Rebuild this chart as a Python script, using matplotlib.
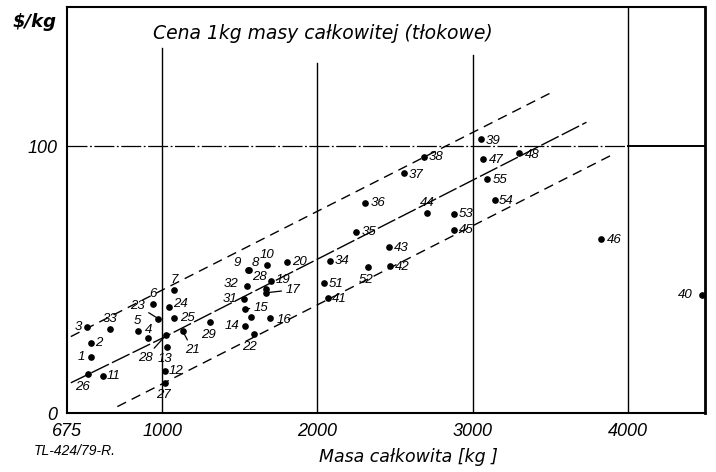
import numpy as np
import matplotlib
matplotlib.use('Agg')
import matplotlib.pyplot as plt

# point numbers, total mass [kg] and price per kg [$/kg]
labels = ['1', '2', '3', '4', '5', '6', '7', '8', '9', '10', '11', '12', '13', '14', '15',
          '16', '17', '28', '19', '20', '21', '22', '23', '24', '25', '26', '27', '28', '29',
          '', '31', '32', '33', '34', '35', '36', '37', '38', '39', '40', '41', '42', '43',
          '44', '45', '46', '47', '48', '51', '52', '53', '54', '55']
mass = [756, 756, 744, 950, 917, 970, 1077, 1561, 1550, 1672, 799, 1019, 1034, 1535, 1535,
        1696, 1669, 1669, 1701, 1801, 1132, 1589, 987, 1041, 1077, 747, 1019, 1026, 1309,
        1574, 1529, 1546, 821, 2083, 2249, 2309, 2560, 2689, 3050, 4479, 2070, 2468, 2463,
        2708, 2876, 3828, 3065, 3297, 2044, 2328, 2876, 3140, 3091]
price = [20.9, 26.4, 32.2, 28.3, 30.8, 41.0, 46.1, 53.8, 53.6, 55.5, 14.0, 15.9, 24.9, 32.7, 39.1,
         35.5, 45.1, 46.6, 49.5, 56.7, 30.8, 29.7, 35.4, 39.7, 35.5, 14.6, 11.4, 29.3, 34.3,
         36.1, 42.6, 47.6, 31.5, 57.1, 67.7, 78.6, 89.8, 96.0, 102.6, 44.1, 43.0, 55.1, 62.3,
         74.8, 68.7, 65.3, 95.1, 97.3, 48.6, 54.6, 74.4, 79.8, 87.5]

# trend line and band limits
mid_x = [688, 1000, 3732]
mid_y = [11.4, 28.1, 108.9]
upper_x = [688, 1000, 3495]
upper_y = [28.7, 46.1, 119.7]
lower_x = [847, 1000, 3893]
lower_y = [2.5, 11.0, 96.6]

xticks = [675, 1000, 2000, 3000, 4000]
yticks = [0, 100]

# label offsets in pixels (dx, dy downwards); leaders = indices drawn with a leader line
offsets = [(-9, 0), (8, 0), (-9, 0), (1, -8), (0, -10), (0, -10), (0, -10), (6, -7), (-10, -7),
           (1, -10), (10, 0), (11, 0), (-2, 12), (-13, 0), (16, -1), (14, 2), (27, -3), (-7, -12),
           (12, -1), (13, 0), (10, 19), (-4, 13), (-21, -13), (12, -3), (13, 0), (-6, 13),
           (-2, 12), (-21, 23), (-2, 13), (0, 0), (-14, 0), (-16, -2), (0, -10), (12, 0),
           (13, 0), (13, 0), (12, 2), (12, 0), (13, 2), (-17, 0), (11, 1), (12, 1), (12, 1),
           (0, -10), (13, 0), (13, 1), (13, 1), (13, 2), (12, 1), (-2, 13), (13, 0), (12, 1),
           (13, 1)]
leaders = {14, 16, 17, 20, 22, 27}

# the axis below 1000 kg is stretched
px_per_kg = 0.1551
def fwd(x):
    return np.interp(x, [675, 1000, 6000], [0, 95, 95 + 5000 * px_per_kg])
def inv(p):
    return np.interp(p, [0, 95, 95 + 5000 * px_per_kg], [675, 1000, 6000])

num_font = 'Liberation Sans'
txt_font = 'DejaVu Sans'

fig = plt.figure(figsize=(7.16, 4.72), dpi=100)
ax = fig.add_axes([0.0936, 0.1244, 0.8910, 0.8606])
ax.set_xscale('function', functions=(fwd, inv))
ax.set_xlim(675, 4495)
ax.set_ylim(0, 152)

# grid
for gx, top in [(1000, 136.7), (2000, 131), (3000, 134), (4000, 152)]:
    ax.plot([gx, gx], [0, top], color='black', lw=1.0, zorder=1)
ax.plot([675, 4000], [100, 100], color='black', lw=0.9, ls=(0, (16, 2, 1.5, 2)), zorder=1)
ax.plot([4000, 4495], [100, 100], color='black', lw=1.4, zorder=1)

ax.plot(mid_x, mid_y, color='black', lw=1.0, ls=(0, (14, 2.5)), zorder=2)
ax.plot(upper_x, upper_y, color='black', lw=1.0, ls=(0, (7, 4.5)), zorder=2)
ax.plot(lower_x, lower_y, color='black', lw=1.0, ls=(0, (7, 4.5)), zorder=2)

ax.plot(mass, price, 'o', color='black', ms=3.8, zorder=3)

for i, (lab, m, p) in enumerate(zip(labels, mass, price)):
    if not lab:
        continue
    dx, dy = offsets[i]
    arrow = None
    if i in leaders:
        arrow = dict(arrowstyle='-', color='black', lw=0.9, shrinkA=1, shrinkB=2)
    ax.annotate(lab, (m, p), xytext=(dx, -dy), textcoords='offset pixels',
                ha='center', va='center', fontsize=9.5, family=num_font, style='italic',
                arrowprops=arrow, zorder=4)

ax.set_xticks(xticks)
ax.set_xticklabels([str(t) for t in xticks], family=num_font, style='italic', fontsize=13)
ax.set_yticks(yticks)
ax.set_yticklabels([str(t) for t in yticks], family=num_font, style='italic', fontsize=13)
ax.tick_params(axis='x', length=0, pad=7)
ax.tick_params(axis='y', length=0, pad=7)

for side in ['left', 'bottom', 'top']:
    ax.spines[side].set_linewidth(1.5)
ax.spines['right'].set_linewidth(2.0)

ax.text(0.401, 0.935, 'Cena 1kg masy całkowitej (tłokowe)', transform=ax.transAxes,
        ha='center', va='center', fontsize=13.5, family=txt_font, style='italic',
        bbox=dict(facecolor='white', edgecolor='none', pad=1.5), zorder=5)

fig.text(13 / 716, 1 - 22 / 472, '$/kg', ha='left', va='center', fontsize=13,
         family=txt_font, style='italic', weight='bold')
fig.text(408 / 716, 1 - 457 / 472, 'Masa całkowita [kg ]', ha='center', va='center',
         fontsize=12.5, family=txt_font, style='italic')
fig.text(75 / 716, 1 - 451 / 472, 'TL-424/79-R.', ha='center', va='center',
         fontsize=10, family=num_font, style='italic')

fig.savefig('out.png', dpi=100)
